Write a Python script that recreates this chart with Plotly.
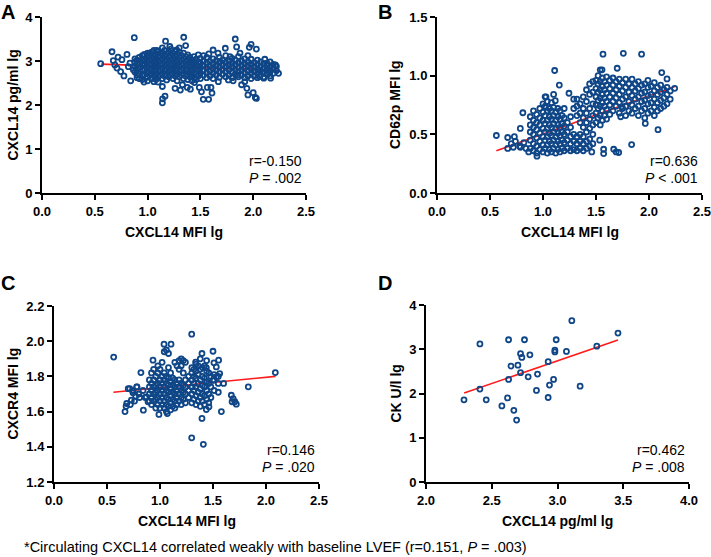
import plotly.graph_objects as go

W, H = 711, 557
FONT = "Liberation Sans, Arial, sans-serif"
BLUE = "#0f4687"

# ---------------- Panel A : CXCL14 MFI lg vs CXCL14 pg/ml lg ----------------
a_edge = [(0.556, 2.94), (0.663, 3.21), (0.805, 3.15), (0.72, 3.09), (0.675, 3.01),
          (0.69, 2.91), (0.71, 2.84), (0.745, 2.76), (0.776, 2.66), (0.84, 2.55),
          (0.818, 2.87), (0.757, 3.03), (0.833, 2.95), (0.865, 2.80), (0.874, 3.53),
          (0.966, 2.52), (1.06, 2.53), (1.17, 3.45), (1.14, 2.42), (1.165, 2.20),
          (1.142, 2.14), (1.14, 2.05), (1.26, 2.38), (1.31, 2.34), (1.342, 3.54),
          (1.36, 3.35), (1.33, 2.46), (1.405, 2.36), (1.376, 2.40), (1.443, 2.51),
          (1.49, 2.40), (1.51, 2.30), (1.527, 2.13), (1.578, 2.13), (1.566, 2.40),
          (1.61, 2.27), (1.60, 2.40), (1.48, 3.14), (1.58, 3.16), (1.667, 3.18),
          (1.736, 3.29), (1.83, 3.50), (1.843, 3.32), (1.963, 3.31), (1.98, 3.38),
          (2.03, 3.27), (1.92, 2.53), (1.89, 2.46), (1.95, 2.23), (2.00, 2.28),
          (2.02, 2.17), (2.03, 2.15), (1.94, 2.38), (2.06, 2.65), (2.165, 2.61),
          (2.24, 2.72), (2.21, 2.91), (2.11, 3.04), (2.13, 2.95), (2.14, 2.80),
          (2.10, 2.61), (2.05, 2.80), (1.765, 2.57), (1.81, 2.55), (1.67, 2.53),
          (1.85, 2.68), (1.685, 2.99), (1.78, 3.10), (1.875, 3.18), (1.62, 3.25),
          (1.53, 3.12), (1.42, 3.01), (1.275, 3.25), (1.21, 3.33), (1.086, 3.24),
          (1.02, 3.18), (0.96, 3.03)]
a_core = [(0.88, [2.75, 2.88, 2.98, 3.05]), (0.90, [2.62, 2.68, 2.80, 2.92, 3.02]),
          (0.92, [2.60, 2.72, 2.85, 2.95, 3.08]), (0.95, [2.58, 2.66, 2.78, 2.90, 3.00, 3.12]),
          (0.97, [2.70, 2.82, 2.94, 3.05, 3.15]), (1.00, [2.55, 2.63, 2.74, 2.86, 2.97, 3.08, 3.18]),
          (1.02, [2.68, 2.80, 2.91, 3.02, 3.13]), (1.04, [2.60, 2.72, 2.84, 2.95, 3.06, 3.20]),
          (1.06, [2.66, 2.78, 2.89, 3.00, 3.11, 3.24]), (1.08, [2.58, 2.70, 2.82, 2.93, 3.04, 3.16]),
          (1.10, [2.52, 2.64, 2.76, 2.87, 2.98, 3.09, 3.21]), (1.12, [2.68, 2.80, 2.91, 3.02, 3.13]),
          (1.14, [2.60, 2.72, 2.84, 2.95, 3.06, 3.18, 3.30]), (1.16, [2.66, 2.78, 2.89, 3.00, 3.11, 3.24]),
          (1.18, [2.57, 2.70, 2.82, 2.93, 3.04, 3.16]), (1.20, [2.64, 2.76, 2.87, 2.98, 3.09, 3.21]),
          (1.22, [2.68, 2.80, 2.91, 3.02, 3.13, 3.27]), (1.24, [2.60, 2.72, 2.84, 2.95, 3.06, 3.18]),
          (1.26, [2.66, 2.78, 2.89, 3.00, 3.11, 3.22]), (1.28, [2.55, 2.70, 2.82, 2.93, 3.04, 3.15]),
          (1.30, [2.64, 2.76, 2.87, 2.98, 3.09, 3.20, 3.30]), (1.32, [2.68, 2.80, 2.91, 3.02, 3.13]),
          (1.34, [2.60, 2.72, 2.84, 2.95, 3.06, 3.18]), (1.36, [2.66, 2.78, 2.89, 3.00, 3.10]),
          (1.38, [2.58, 2.70, 2.82, 2.93, 3.04, 3.14]), (1.40, [2.64, 2.76, 2.87, 2.98, 3.08]),
          (1.42, [2.55, 2.68, 2.80, 2.91, 3.02]), (1.44, [2.62, 2.74, 2.85, 2.96, 3.10]),
          (1.46, [2.58, 2.70, 2.82, 2.92, 3.04]), (1.48, [2.66, 2.78, 2.88, 2.98]),
          (1.50, [2.60, 2.72, 2.84, 2.94, 3.06]), (1.53, [2.68, 2.79, 2.90, 3.00]),
          (1.56, [2.62, 2.74, 2.85, 2.96, 3.08]), (1.59, [2.66, 2.77, 2.88, 2.99]),
          (1.62, [2.60, 2.72, 2.83, 2.94, 3.05]), (1.65, [2.68, 2.79, 2.90, 3.00]),
          (1.68, [2.63, 2.75, 2.86, 2.96, 3.08]), (1.71, [2.70, 2.81, 2.92, 3.02]),
          (1.74, [2.64, 2.76, 2.87, 2.97, 3.12]), (1.77, [2.68, 2.80, 2.90, 3.00]),
          (1.80, [2.62, 2.74, 2.85, 2.95, 3.06]), (1.83, [2.70, 2.81, 2.92, 3.02]),
          (1.86, [2.64, 2.76, 2.86, 2.96, 3.10]), (1.89, [2.68, 2.79, 2.90, 3.00]),
          (1.92, [2.62, 2.73, 2.84, 2.94, 3.05]), (1.95, [2.66, 2.77, 2.88, 2.98, 3.12]),
          (1.98, [2.60, 2.72, 2.83, 2.93, 3.04]), (2.01, [2.66, 2.76, 2.86, 2.96]),
          (2.04, [2.62, 2.72, 2.82, 2.92, 3.02]), (2.07, [2.68, 2.78, 2.88, 2.98]),
          (2.10, [2.64, 2.74, 2.84, 2.94]), (2.13, [2.70, 2.80, 2.90]),
          (2.16, [2.66, 2.76, 2.86, 2.98]), (2.19, [2.72, 2.82, 2.92]), (2.22, [2.78, 2.88])]
a_fit_x = [0.56, 2.25]
a_fit_y = [2.93, 2.79]

# ---------------- Panel B : CXCL14 MFI lg vs CD62p MFI lg ----------------
b_edge = [(0.56, 0.49), (0.667, 0.473), (0.667, 0.38), (0.73, 0.48), (0.786, 0.55),
          (0.81, 0.684), (0.786, 0.39), (0.865, 0.35), (0.943, 0.314), (1.11, 1.044),
          (1.154, 0.92), (1.116, 0.787), (1.022, 0.741), (1.028, 0.82), (1.245, 0.85),
          (1.46, 0.35), (1.566, 1.183), (1.557, 1.05), (1.758, 1.19), (1.70, 1.063),
          (1.93, 1.183), (2.12, 1.026), (2.17, 0.972), (2.085, 0.54), (1.836, 0.413),
          (1.667, 0.373), (1.69, 0.35), (1.714, 0.345), (1.572, 0.373), (1.572, 0.336),
          (1.535, 0.45), (2.242, 0.892), (1.965, 0.593), (1.745, 0.735), (1.733, 0.65),
          (0.70, 0.42), (0.74, 0.44), (0.78, 0.40), (0.82, 0.43), (0.84, 0.38), (0.72, 0.39)]
b_core = [(0.88, [0.38, 0.45, 0.52, 0.58, 0.65]), (0.91, [0.36, 0.42, 0.50, 0.56, 0.62, 0.70]),
          (0.94, [0.34, 0.40, 0.47, 0.54, 0.60, 0.67]), (0.97, [0.37, 0.44, 0.51, 0.58, 0.64, 0.72]),
          (1.00, [0.35, 0.41, 0.48, 0.55, 0.62, 0.69, 0.76]), (1.02, [0.38, 0.45, 0.52, 0.59, 0.66, 0.73, 0.82]),
          (1.04, [0.34, 0.41, 0.48, 0.55, 0.62, 0.70, 0.78]), (1.06, [0.37, 0.44, 0.51, 0.58, 0.65, 0.72]),
          (1.08, [0.35, 0.42, 0.49, 0.56, 0.63, 0.70, 0.77]), (1.10, [0.38, 0.45, 0.52, 0.59, 0.66, 0.73, 0.84]),
          (1.12, [0.34, 0.41, 0.48, 0.55, 0.62, 0.69]), (1.14, [0.37, 0.44, 0.51, 0.58, 0.65, 0.72]),
          (1.16, [0.35, 0.42, 0.49, 0.56, 0.63, 0.70]), (1.18, [0.38, 0.45, 0.52, 0.59, 0.66]),
          (1.20, [0.36, 0.43, 0.50, 0.57, 0.64, 0.72]), (1.23, [0.38, 0.45, 0.52, 0.60]),
          (1.26, [0.36, 0.42, 0.48, 0.56, 0.65]), (1.29, [0.37, 0.44, 0.50, 0.72, 0.80]),
          (1.32, [0.36, 0.42, 0.48, 0.66, 0.74, 0.80]), (1.35, [0.38, 0.44, 0.50, 0.60, 0.68, 0.76]),
          (1.38, [0.36, 0.42, 0.48, 0.56, 0.64, 0.72, 0.82]), (1.41, [0.38, 0.44, 0.52, 0.60, 0.68, 0.78, 0.88]),
          (1.44, [0.40, 0.46, 0.55, 0.63, 0.72, 0.84, 0.93]), (1.47, [0.42, 0.50, 0.58, 0.66, 0.76, 0.86, 0.95]),
          (1.50, [0.60, 0.68, 0.75, 0.82, 0.89, 0.96]), (1.52, [0.64, 0.72, 0.79, 0.86, 0.93, 1.00]),
          (1.54, [0.58, 0.66, 0.74, 0.81, 0.88, 0.95, 1.05]), (1.56, [0.62, 0.70, 0.77, 0.84, 0.91, 0.98]),
          (1.58, [0.66, 0.74, 0.81, 0.88, 0.95]), (1.60, [0.63, 0.71, 0.78, 0.85, 0.92, 0.99]),
          (1.63, [0.67, 0.75, 0.82, 0.89, 0.96]), (1.66, [0.70, 0.78, 0.85, 0.92, 0.98]),
          (1.69, [0.74, 0.81, 0.88, 0.95]), (1.72, [0.68, 0.77, 0.84, 0.91, 0.97]),
          (1.75, [0.72, 0.80, 0.87, 0.94]), (1.78, [0.66, 0.74, 0.82, 0.90, 0.97]),
          (1.81, [0.70, 0.78, 0.86, 0.93]), (1.84, [0.68, 0.75, 0.83, 0.90, 0.97]),
          (1.87, [0.72, 0.80, 0.87, 0.93]), (1.90, [0.66, 0.74, 0.82, 0.89, 0.95]),
          (1.93, [0.70, 0.78, 0.85, 0.92]), (1.96, [0.64, 0.72, 0.79, 0.86, 0.93]),
          (1.99, [0.68, 0.76, 0.83, 0.90, 0.96]), (2.02, [0.70, 0.77, 0.84, 0.91]),
          (2.05, [0.66, 0.73, 0.80, 0.87, 0.94]), (2.08, [0.70, 0.77, 0.84, 0.90]),
          (2.11, [0.72, 0.79, 0.86, 0.92]), (2.14, [0.74, 0.81, 0.88]),
          (2.17, [0.76, 0.84, 0.90]), (2.20, [0.80, 0.87])]
b_fit_x = [0.56, 2.25]
b_fit_y = [0.36, 0.91]

# ---------------- Panel C : CXCL14 MFI lg vs CXCR4 MFI lg ----------------
c_edge = [(0.563, 1.91), (0.67, 1.60), (0.686, 1.646), (1.299, 2.04), (1.299, 1.451),
          (1.409, 1.414), (1.396, 1.561), (1.50, 1.943), (1.396, 1.93), (1.038, 1.983),
          (1.104, 1.983), (1.336, 1.881), (1.20, 1.90), (1.553, 1.892), (1.579, 1.60),
          (1.462, 1.627), (1.437, 1.612), (2.088, 1.822), (1.833, 1.741), (1.60, 1.76),
          (1.673, 1.693), (1.69, 1.674), (1.706, 1.656), (1.72, 1.642), (1.68, 1.656),
          (0.843, 1.608), (0.82, 1.822), (0.934, 1.892), (0.99, 1.584), (1.069, 1.589),
          (0.714, 1.731), (0.783, 1.741), (0.745, 1.707), (0.808, 1.68), (0.73, 1.665),
          (0.77, 1.688), (0.871, 1.684), (0.887, 1.656), (1.509, 1.877), (1.437, 1.85),
          (1.531, 1.854), (1.563, 1.816), (1.50, 1.778), (1.531, 1.797),
          (0.70, 1.73), (0.74, 1.72), (0.78, 1.74), (0.80, 1.70), (0.76, 1.66),
          (0.72, 1.64), (0.84, 1.72), (0.86, 1.68), (0.68, 1.63)]
c_core = [(0.90, [1.66, 1.70, 1.74, 1.78]), (0.92, [1.64, 1.68, 1.72, 1.76, 1.82]),
          (0.94, [1.66, 1.70, 1.74, 1.78, 1.84]), (0.96, [1.62, 1.67, 1.71, 1.75, 1.80]),
          (0.98, [1.64, 1.68, 1.72, 1.76, 1.82, 1.86]), (1.00, [1.62, 1.66, 1.70, 1.74, 1.78, 1.84]),
          (1.02, [1.64, 1.68, 1.72, 1.76, 1.80, 1.88]), (1.04, [1.62, 1.66, 1.70, 1.74, 1.78, 1.82, 1.94]),
          (1.06, [1.60, 1.64, 1.68, 1.72, 1.76, 1.80, 1.95]), (1.08, [1.63, 1.67, 1.71, 1.75, 1.79, 1.85, 1.93]),
          (1.10, [1.61, 1.65, 1.69, 1.73, 1.77, 1.82]), (1.12, [1.63, 1.67, 1.71, 1.75, 1.79]),
          (1.14, [1.62, 1.66, 1.70, 1.74, 1.78, 1.88]), (1.16, [1.64, 1.68, 1.72, 1.76, 1.86]),
          (1.18, [1.66, 1.70, 1.74, 1.78, 1.84, 1.89]), (1.20, [1.64, 1.68, 1.72, 1.76, 1.86]),
          (1.22, [1.67, 1.71, 1.75, 1.82, 1.89]), (1.24, [1.65, 1.70, 1.74, 1.78, 1.88]),
          (1.27, [1.68, 1.72, 1.76, 1.80]), (1.30, [1.65, 1.70, 1.74, 1.78, 1.82, 1.85]),
          (1.32, [1.67, 1.72, 1.76, 1.80, 1.84]), (1.34, [1.64, 1.69, 1.74, 1.79, 1.83, 1.87]),
          (1.36, [1.66, 1.71, 1.76, 1.81, 1.86]), (1.38, [1.63, 1.68, 1.73, 1.78, 1.84, 1.90]),
          (1.40, [1.66, 1.70, 1.75, 1.80, 1.85]), (1.42, [1.64, 1.69, 1.74, 1.79, 1.86]),
          (1.44, [1.67, 1.72, 1.77, 1.83, 1.89]), (1.46, [1.65, 1.70, 1.76, 1.82]),
          (1.48, [1.68, 1.74, 1.80]), (1.51, [1.72, 1.78, 1.81]), (1.55, [1.71, 1.76, 1.80])]
c_fit_x = [0.56, 2.09]
c_fit_y = [1.71, 1.80]

# ---------------- Panel D : CXCL14 pg/ml lg vs CK U/l lg ----------------
d_x = [2.289, 2.41, 2.41, 2.458, 2.577, 2.62, 2.628, 2.628, 2.646, 2.668, 2.689,
       2.699, 2.719, 2.719, 2.729, 2.749, 2.777, 2.79, 2.84, 2.848, 2.929, 2.929,
       2.939, 2.97, 2.98, 2.98, 2.99, 3.068, 3.109, 3.172, 3.299, 3.46]
d_y = [1.857, 3.12, 2.10, 1.857, 1.72, 1.90, 3.215, 2.317, 2.62, 1.62, 1.40,
       2.64, 2.90, 2.47, 2.815, 3.215, 2.377, 2.875, 2.07, 2.44, 2.72, 1.91,
       2.19, 2.317, 2.98, 2.94, 3.215, 2.95, 3.645, 2.166, 3.07, 3.366]
d_fit_x = [2.29, 3.46]
d_fit_y = [2.01, 3.21]

stats = [("r=-0.150", "<i>P</i> = .002"), ("r=0.636", "<i>P</i> < .001"),
         ("r=0.146", "<i>P</i> = .020"), ("r=0.462", "<i>P</i> = .008")]
x_titles = ["CXCL14 MFI lg", "CXCL14 MFI lg", "CXCL14 MFI lg", "CXCL14 pg/ml lg"]
y_titles = ["CXCL14 pg/ml lg", "CD62p MFI lg", "CXCR4 MFI lg", "CK U/l lg"]
letters = ["A", "B", "C", "D"]
footnote = "*Circulating CXCL14 correlated weakly with baseline LVEF (r=0.151, <i>P</i> = .003)"


def expand(edge, core):
    xs = [p[0] for p in edge]
    ys = [p[1] for p in edge]
    for cx, cys in core:
        for cy in cys:
            xs.append(cx)
            ys.append(cy)
    return xs, ys


a_x, a_y = expand(a_edge, a_core)
b_x, b_y = expand(b_edge, b_core)
c_x, c_y = expand(c_edge, c_core)

panels = [
    (a_x, a_y, a_fit_x, a_fit_y),
    (b_x, b_y, b_fit_x, b_fit_y),
    (c_x, c_y, c_fit_x, c_fit_y),
    (d_x, d_y, d_fit_x, d_fit_y),
]

# pixel boxes of the plot areas: (left, right, top, bottom)
boxes = [(42, 306, 17, 193), (437, 702, 17, 193), (54, 319, 306, 482), (426, 689, 305, 482)]
x_ranges = [[0, 2.5], [0, 2.5], [0, 2.5], [2.0, 4.0]]
y_ranges = [[0, 4], [0, 1.5], [1.2, 2.2], [0, 4]]
x_dticks = [0.5, 0.5, 0.5, 0.5]
y_dticks = [1, 0.5, 0.2, 1]
x_fmt = [".1f", ".1f", ".1f", ".1f"]
y_fmt = ["d", ".1f", ".1f", "d"]

fig = go.Figure()
layout = dict(width=W, height=H, margin=dict(l=0, r=0, t=0, b=0, autoexpand=False),
              paper_bgcolor="white", plot_bgcolor="white", showlegend=False,
              font=dict(family=FONT, color="black"))
annotations = []

for i, (xs, ys, fx, fy) in enumerate(panels):
    n = "" if i == 0 else str(i + 1)
    xa, ya = "x" + n, "y" + n
    fig.add_trace(go.Scatter(x=fx, y=fy, mode="lines", xaxis=xa, yaxis=ya,
                             line=dict(color="#ff1a1a", width=1.6), hoverinfo="skip"))
    fig.add_trace(go.Scatter(x=xs, y=ys, mode="markers", xaxis=xa, yaxis=ya,
                             marker=dict(symbol="circle-open", size=5, color=BLUE,
                                         line=dict(width=1.8, color=BLUE))))
    l, r, t, b = boxes[i]
    common = dict(showline=True, linecolor="black", linewidth=2, ticks="outside",
                  ticklen=5, tickwidth=1.5, tickcolor="black", showgrid=False,
                  zeroline=False, fixedrange=True, automargin=False,
                  ticklabeloverflow="allow",
                  tickfont=dict(family=FONT, size=13, color="black", weight="bold"))
    layout["xaxis" + n] = dict(domain=[l / W, r / W], range=x_ranges[i], dtick=x_dticks[i],
                               tick0=x_ranges[i][0], tickformat=x_fmt[i],
                               anchor=ya, **common)
    layout["yaxis" + n] = dict(domain=[1 - b / H, 1 - t / H], range=y_ranges[i], dtick=y_dticks[i],
                               tick0=y_ranges[i][0], tickformat=y_fmt[i],
                               anchor=xa, **common)
    # stats text
    annotations.append(dict(xref="paper", yref="paper", x=(r - 2) / W, y=1 - (b - 32) / H,
                            xanchor="right", yanchor="middle", showarrow=False,
                            text=stats[i][0], font=dict(family=FONT, size=14, color="black")))
    annotations.append(dict(xref="paper", yref="paper", x=(r - 2) / W, y=1 - (b - 15) / H,
                            xanchor="right", yanchor="middle", showarrow=False,
                            text=stats[i][1], font=dict(family=FONT, size=14, color="black")))
    # x title
    annotations.append(dict(xref="paper", yref="paper", x=(l + r) / 2 / W, y=1 - (b + 39) / H,
                            xanchor="center", yanchor="middle", showarrow=False,
                            text="<b>" + x_titles[i] + "</b>",
                            font=dict(family=FONT, size=14, color="black")))
    # y title
    ytx = 12.5 if i in (0, 2) else 395
    annotations.append(dict(xref="paper", yref="paper", x=ytx / W, y=1 - (t + b) / 2 / H,
                            xanchor="center", yanchor="middle", showarrow=False, textangle=-90,
                            text="<b>" + y_titles[i] + "</b>",
                            font=dict(family=FONT, size=14, color="black")))
    # panel letter
    lx = 7.5 if i in (0, 2) else 384.5
    ly = 12 if i < 2 else 283
    annotations.append(dict(xref="paper", yref="paper", x=lx / W, y=1 - ly / H,
                            xanchor="center", yanchor="middle", showarrow=False,
                            text="<b>" + letters[i] + "</b>",
                            font=dict(family=FONT, size=20, color="black")))

annotations.append(dict(xref="paper", yref="paper", x=22 / W, y=1 - 547 / H,
                        xanchor="left", yanchor="middle", showarrow=False, text=footnote,
                        font=dict(family=FONT, size=14.5, color="black")))
layout["annotations"] = annotations
fig.update_layout(**layout)
fig.write_html("out.html", config={"displayModeBar": False},
               post_script="document.body.style.margin='0px';document.body.style.overflow='hidden';")
